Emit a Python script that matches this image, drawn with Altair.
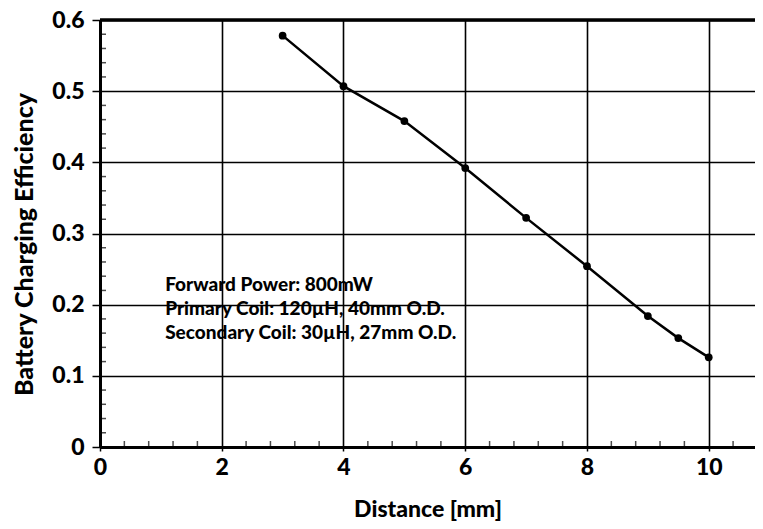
import altair as alt
import pandas as pd

distance = [3, 4, 5, 6, 7, 8, 9, 9.5, 10]
efficiency = [0.578, 0.507, 0.458, 0.392, 0.322, 0.254, 0.184, 0.153, 0.126]

x_ticks = [0, 2, 4, 6, 8, 10]
y_ticks = [0, 0.1, 0.2, 0.3, 0.4, 0.5, 0.6]
x_minor = [round(i * 0.4, 2) for i in range(1, 27) if i % 5 != 0]
y_minor = [round(i * 0.02, 2) for i in range(1, 30) if i % 5 != 0]

notes = ["Forward Power: 800mW", "Primary Coil: 120\u00b5H, 40mm O.D.", "Secondary Coil: 30\u00b5H, 27mm O.D."]
note_y = [0.228, 0.194, 0.160]
note_x = [1.07, 1.07, 1.07]

FONT = "Lato"
W = 900

df = pd.DataFrame({"d": distance, "e": efficiency})
notes_df = pd.DataFrame({"t": notes, "x": note_x, "y": note_y})
xm_df = pd.DataFrame({"x": x_minor})
ym_df = pd.DataFrame({"y": y_minor})

xscale = alt.Scale(domain=[0, 10.76], nice=False, zero=False)
yscale = alt.Scale(domain=[0, 0.6], nice=False)

xaxis = alt.Axis(values=x_ticks, title="Distance [mm]", grid=True, gridColor="black", gridWidth=1.6,
                 domainColor="black", domainWidth=3, tickColor="black", tickWidth=1.5, tickSize=4,
                 labelFont=FONT, labelFontSize=23, labelFontWeight=W, labelColor="black", labelPadding=5,
                 titleFont=FONT, titleFontSize=23, titleFontWeight=W, titleColor="black", titlePadding=19,
                 format="d", labelFlush=False)
yaxis = alt.Axis(values=y_ticks, title="Battery Charging Efficiency", grid=True, gridColor="black", gridWidth=1.6,
                 domainColor="black", domainWidth=3, tickColor="black", tickWidth=1.5, tickSize=8,
                 labelFont=FONT, labelFontSize=23, labelFontWeight=W, labelColor="black", labelPadding=8,
                 labelExpr="datum.value == 0 ? '0' : format(datum.value, '.1f')",
                 titleFont=FONT, titleFontSize=25, titleFontWeight=W, titleColor="black", titlePadding=14,
                 titleY=224, labelFlush=False)

base = alt.Chart(df)
line = base.mark_line(color="black", strokeWidth=2.5).encode(
    x=alt.X("d:Q", scale=xscale, axis=xaxis),
    y=alt.Y("e:Q", scale=yscale, axis=yaxis),
)
pts = base.mark_point(filled=True, color="black", size=60, opacity=1).encode(
    x=alt.X("d:Q", scale=xscale),
    y=alt.Y("e:Q", scale=yscale),
)
top = alt.Chart(pd.DataFrame({"y": [0.6]})).mark_rule(color="black", strokeWidth=3.5).encode(
    y=alt.Y("y:Q", scale=yscale)
)
xm = alt.Chart(xm_df).mark_tick(color="black", orient="vertical", size=6, thickness=1.5, yOffset=-3).encode(
    x=alt.X("x:Q", scale=xscale), y=alt.datum(0)
)
ym = alt.Chart(ym_df).mark_tick(color="black", orient="horizontal", size=6, thickness=1.5, xOffset=3).encode(
    y=alt.Y("y:Q", scale=yscale), x=alt.datum(0)
)
txt = alt.Chart(notes_df).mark_text(align="left", baseline="middle", font=FONT, fontSize=19,
                                    fontWeight=W, color="black").encode(
    x=alt.X("x:Q", scale=xscale), y=alt.Y("y:Q", scale=yscale), text="t:N"
)

chart = alt.layer(line, pts, top, xm, ym, txt).properties(
    width=655, height=427,
    autosize=alt.AutoSizeParams(type="none"),
    padding={"left": 92, "top": 12, "right": 0, "bottom": 76},
).configure_view(stroke=None).configure(background="white")

chart.save("out.html", embed_options={"renderer": "svg", "actions": False})
